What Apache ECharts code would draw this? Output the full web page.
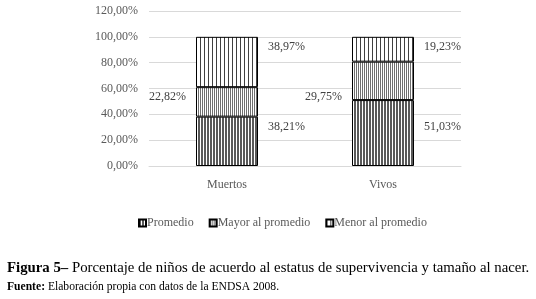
<!DOCTYPE html>
<html>
<head>
<meta charset="utf-8">
<script src="https://cdn.jsdelivr.net/npm/echarts@6/dist/echarts.min.js"></script>
<style>
  html, body { margin: 0; padding: 0; background: #fff; }
  #chart { width: 536px; height: 299px; }
</style>
</head>
<body>
<div id="chart"></div>
<script>
// datos
const categorias = ['Muertos', 'Vivos'];
const promedio = [38.21, 51.03];
const mayorPromedio = [22.82, 29.75];
const menorPromedio = [38.97, 19.23];
const nombresSeries = ['Promedio', 'Mayor al promedio', 'Menor al promedio'];
const ticksY = [0, 20, 40, 60, 80, 100, 120];

// tramas de barras (rayas verticales)
function trama(periodo, ancho, color) {
    const c = document.createElement('canvas');
    c.width = periodo;
    c.height = 4;
    const ctx = c.getContext('2d');
    ctx.fillStyle = '#fff';
    ctx.fillRect(0, 0, periodo, 4);
    ctx.fillStyle = color;
    ctx.fillRect(0, 0, ancho, 4);
    return { image: c, repeat: 'repeat' };
}

const fmt = v => v.toFixed(2).replace('.', ',') + '%';
const fuente = 'Liberation Serif, Times New Roman, serif';

const chart = echarts.init(document.getElementById('chart'));

// desplazamiento vertical de etiquetas (colocadas a mano en el original)
const ajusteEtiqueta = [[-14, -6], [-5, 16], [-15, -2]];
const posEtiqueta = ['right', 'left', 'right'];
const tramas = [
    trama(3, 2, '#595959'),
    trama(2, 1, '#6f6f6f'),
    trama(4, 1, '#404040')
];

const seriesData = [promedio, mayorPromedio, menorPromedio];

chart.setOption({
    backgroundColor: '#fff',
    animation: false,
    grid: { left: 149, right: 75, top: 11, bottom: 133 },
    legend: {
        data: nombresSeries,
        left: 133,
        top: 212,
        icon: 'rect',
        itemWidth: 7,
        itemHeight: 7,
        itemGap: 15,
        textStyle: { fontFamily: fuente, fontSize: 12, color: '#595959', padding: [0, 0, 0, -4] }
    },
    xAxis: {
        type: 'category',
        data: categorias,
        axisLine: { lineStyle: { color: '#d9d9d9' } },
        axisTick: { show: false },
        axisLabel: { fontFamily: fuente, fontSize: 12, color: '#595959', margin: 13 }
    },
    yAxis: {
        type: 'value',
        min: ticksY[0],
        max: ticksY[ticksY.length - 1],
        interval: 20,
        axisLine: { show: false },
        axisTick: { show: false },
        splitLine: { lineStyle: { color: '#d9d9d9' } },
        axisLabel: { fontFamily: fuente, fontSize: 12, color: '#595959', margin: 11, formatter: fmt }
    },
    series: seriesData.map((vals, i) => ({
        name: nombresSeries[i],
        type: 'bar',
        stack: 'total',
        barWidth: 62,
        itemStyle: { color: tramas[i], borderColor: '#000', borderWidth: 1 },
        data: vals.map((v, j) => ({
            value: v,
            label: {
                show: true,
                position: posEtiqueta[i],
                distance: 10,
                offset: [0, ajusteEtiqueta[i][j]],
                formatter: p => fmt(p.value),
                fontFamily: fuente,
                fontSize: 12,
                color: '#404040'
            }
        }))
    })),
    graphic: [
        {
            type: 'text',
            left: 7,
            top: 261,
            style: {
                text: '{b|Figura 5–} Porcentaje de niños de acuerdo al estatus de supervivencia y tamaño al nacer.',
                rich: {
                    b: { fontFamily: fuente, fontSize: 14.8, fontWeight: 'bold', fill: '#000' }
                },
                fontFamily: fuente,
                fontSize: 14.8,
                fill: '#000'
            }
        },
        {
            type: 'text',
            left: 7,
            top: 281,
            style: {
                text: '{b|Fuente:} Elaboración propia con datos de la ENDSA 2008.',
                rich: {
                    b: { fontFamily: fuente, fontSize: 11.6, fontWeight: 'bold', fill: '#000' }
                },
                fontFamily: fuente,
                fontSize: 11.6,
                fill: '#000'
            }
        }
    ]
});
</script>
</body>
</html>
